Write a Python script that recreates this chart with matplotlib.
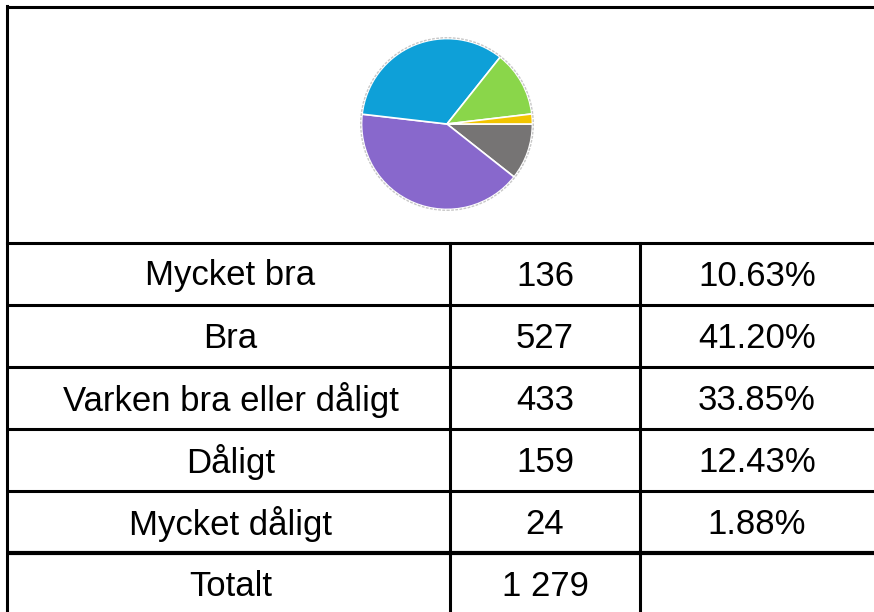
import matplotlib
matplotlib.use("Agg")
import matplotlib.pyplot as plt

# Data from the survey table
labels = ["Mycket bra", "Bra", "Varken bra eller dåligt", "Dåligt", "Mycket dåligt"]
counts = [136, 527, 433, 159, 24]
colors = ["#767474", "#8868CC", "#0EA0D8", "#8AD64A", "#F2C500"]
total_label = "Totalt"

W, H = 874, 612
fig = plt.figure(figsize=(W / 100, H / 100), dpi=100)
plt.rcParams["font.family"] = ["Liberation Sans", "DejaVu Sans"]

# table axes in pixel coordinates
ax = fig.add_axes([0, 0, 1, 1])
ax.set_xlim(0, W)
ax.set_ylim(H, 0)
ax.axis("off")

lw = 2.2
ax.plot([7, W], [7, 7], color="black", lw=lw, solid_capstyle="butt")
ax.plot([7, 7], [6, H], color="black", lw=lw, solid_capstyle="projecting")
ax.plot([7, W], [243, 243], color="black", lw=lw)

row_top = 243
row_h = 62
col_x = [7, 450, 640, W]
n = len(labels)
for i in range(1, n + 1):
    y = row_top + i * row_h
    ax.plot([7, W], [y, y], color="black", lw=3.0 if i == n else lw, solid_capstyle="butt")
for x in col_x[1:3]:
    ax.plot([x, x], [row_top, H], color="black", lw=lw)

total = sum(counts)
centers = [(col_x[0] + col_x[1]) / 2 + 2, (col_x[1] + col_x[2]) / 2, (col_x[2] + col_x[3]) / 2]
fs = 25
for i, (lab, c) in enumerate(zip(labels, counts)):
    yc = row_top + i * row_h + row_h / 2 + 2
    ax.text(centers[0], yc, lab, ha="center", va="center", fontsize=fs)
    ax.text(centers[1], yc, str(c), ha="center", va="center", fontsize=fs)
    ax.text(centers[2], yc, f"{c / total * 100:.2f}%", ha="center", va="center", fontsize=fs)

yc = row_top + n * row_h + row_h / 2 + 2
ax.text(centers[0], yc, total_label, ha="center", va="center", fontsize=fs)
ax.text(centers[1], yc, f"{total:,}".replace(",", " "), ha="center", va="center", fontsize=fs)

# pie
cx, cy, r = 447, 124, 88
pax = fig.add_axes([(cx - r) / W, (H - cy - r) / H, 2 * r / W, 2 * r / H])
pax.pie(counts, colors=colors, startangle=0, counterclock=False,
        wedgeprops=dict(edgecolor="white", linewidth=1.2))
pax.add_patch(plt.Circle((0, 0), 1.01, fill=False, edgecolor="#c8c8c8", lw=1.0, ls=(0, (2, 1))))
pax.set_xlim(-1.03, 1.03)
pax.set_ylim(-1.03, 1.03)
pax.axis("off")

fig.savefig("out.png", dpi=100)
